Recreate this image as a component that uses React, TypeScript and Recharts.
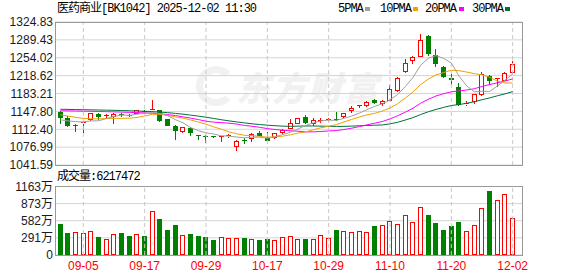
import React from "react";
import {
  ComposedChart,
  Bar,
  Line,
  XAxis,
  YAxis,
  CartesianGrid,
  ReferenceLine,
} from "recharts";

const dates = [
  "09-02", "09-03", "09-04", "09-05", "09-08", "09-09", "09-10", "09-11", "09-12", "09-15",
  "09-16", "09-17", "09-18", "09-19", "09-22", "09-23", "09-24", "09-25", "09-26", "09-29",
  "09-30", "10-09", "10-10", "10-13", "10-14", "10-15", "10-16", "10-17", "10-20", "10-21",
  "10-22", "10-23", "10-24", "10-27", "10-28", "10-29", "10-30", "10-31", "11-03", "11-04",
  "11-05", "11-06", "11-07", "11-10", "11-11", "11-12", "11-13", "11-14", "11-17", "11-18",
  "11-19", "11-20", "11-21", "11-24", "11-25", "11-26", "11-27", "11-28", "12-01", "12-02",
];

const opens = [
  1146, 1134, 1119, 1122, 1130, 1143, 1138, 1137, 1143, 1141,
  1143.4, 1149, 1148.7, 1150, 1132, 1119.3, 1106.3, 1114, 1101, 1099.8,
  1098.4, 1096.5, 1097, 1077, 1091, 1093.4, 1104.5, 1094.7, 1094.7, 1104.5,
  1113, 1122.9, 1137.3, 1122.9, 1128.8, 1130.8, 1132.8, 1136, 1147.8, 1157.6,
  1158, 1170.1, 1162.8, 1169.3, 1188.2, 1225.1, 1248.5, 1255.7, 1297.9, 1258.9,
  1236.2, 1214.7, 1195.3, 1160.2, 1167.3, 1179.6, 1218.6, 1211.4, 1208.2, 1223.1,
];
const highs = [
  1149, 1138, 1123, 1127, 1145, 1145, 1142, 1144, 1145, 1143,
  1151, 1151, 1169.5, 1151, 1133, 1120, 1117, 1116, 1102, 1101,
  1099, 1100, 1103, 1091, 1095, 1104, 1108, 1106.5, 1105, 1113,
  1132.7, 1135, 1140.6, 1134, 1134.7, 1135.3, 1147, 1145, 1159, 1161,
  1168, 1172, 1170, 1200.5, 1216, 1252.4, 1257, 1301.8, 1299, 1271.9,
  1238, 1221.2, 1203.7, 1169.3, 1183, 1225.1, 1219, 1214.7, 1226.4, 1247.2,
];
const lows = [
  1122, 1116, 1107, 1104, 1128, 1131, 1132, 1123, 1137, 1137,
  1142, 1145, 1147.5, 1126, 1118, 1092, 1105, 1100, 1092, 1084.8,
  1096, 1087, 1095, 1068.5, 1083, 1088, 1099, 1089, 1094, 1103,
  1112, 1122, 1123, 1119.6, 1124.9, 1127.5, 1129, 1135, 1144.5, 1154,
  1157, 1163, 1158, 1168, 1187, 1224, 1240.7, 1255, 1257.6, 1234.9,
  1213.4, 1199.2, 1159, 1159, 1163.4, 1178, 1200.4, 1195.3, 1207, 1222,
];
const closes = [
  1135.5, 1118, 1121, 1126, 1144, 1137, 1140, 1142, 1140, 1139.5,
  1150, 1147, 1153.2, 1128, 1119.5, 1109.5, 1116, 1105, 1098.4, 1097.8,
  1097.1, 1099, 1101.5, 1090, 1089.5, 1103.2, 1100, 1090.1, 1104.5, 1111.7,
  1124.9, 1134, 1124.2, 1130.8, 1130.8, 1132.7, 1131.5, 1143.9, 1153.7, 1160,
  1166.8, 1164.2, 1169.3, 1192, 1214.7, 1244.6, 1255, 1290.1, 1260.8, 1241.4,
  1216, 1209.5, 1160.2, 1164.7, 1182.2, 1221.2, 1208.2, 1213.4, 1223.1, 1242.6,
];

// volume in 万
const volumes = [
  530, 382, 388, 376, 405, 308, 268, 359, 376, 325,
  359, 325, 747, 616, 428, 513, 336, 359, 325, 308,
  257, 302, 285, 291, 285, 274, 257, 274, 257, 302,
  319, 268, 274, 274, 336, 285, 428, 405, 388, 405,
  388, 496, 507, 581, 524, 678, 559, 815, 684, 542,
  428, 496, 564, 405, 507, 798, 1094, 935, 1037, 621.7,
];

const ma5 = [
  1131, 1129, 1127.5, 1127, 1128.9, 1129.2, 1133.6, 1137.8, 1140.6, 1139.7,
  1142.3, 1143.7, 1145.9, 1143.5, 1139.5, 1131.4, 1125.2, 1115.6, 1109.7, 1105.3,
  1102.9, 1099.5, 1098.8, 1097.1, 1095.4, 1096.6, 1096.8, 1094.6, 1097.5, 1101.9,
  1106.2, 1113, 1119.9, 1125.1, 1128.9, 1130.5, 1130, 1133.9, 1138.5, 1144.4,
  1151.2, 1157.7, 1162.8, 1170.5, 1181.4, 1197, 1215.1, 1239.3, 1253, 1258.4,
  1252.7, 1243.6, 1217.6, 1198.4, 1186.5, 1187.6, 1187.3, 1197.9, 1209.6, 1221.7,
];
const ma10 = [
  1141, 1138.5, 1136, 1134, 1133, 1133, 1133.5, 1134, 1134, 1134.3,
  1135.8, 1138.7, 1141.9, 1142.1, 1139.6, 1136.9, 1134.5, 1130.8, 1126.6, 1122.4,
  1117.2, 1112.4, 1107.2, 1103.4, 1100.4, 1099.8, 1098.2, 1096.7, 1097.3, 1098.7,
  1101.4, 1104.9, 1107.2, 1111.3, 1115.4, 1118.4, 1121.5, 1126.9, 1131.8, 1136.7,
  1140.8, 1143.9, 1148.4, 1154.5, 1162.9, 1174.1, 1186.4, 1201, 1211.8, 1219.9,
  1224.8, 1229.3, 1228.4, 1225.7, 1222.5, 1220.1, 1215.4, 1207.8, 1204, 1204.1,
];
const ma20 = [
  1149, 1148.8, 1148.5, 1148.2, 1148, 1147.6, 1147.2, 1146.8, 1146.3, 1145.8,
  1145.3, 1144.8, 1144.2, 1143, 1141.5, 1139.5, 1137, 1134.5, 1131.5, 1128.4,
  1126.5, 1125.5, 1124.5, 1122.7, 1120, 1118.3, 1116.3, 1113.7, 1111.9, 1110.6,
  1109.3, 1108.6, 1107.2, 1107.3, 1107.9, 1109.1, 1109.8, 1111.8, 1114.5, 1117.7,
  1121.1, 1124.4, 1127.8, 1132.9, 1139.2, 1146.2, 1154, 1164, 1171.8, 1178.3,
  1182.8, 1186.6, 1188.4, 1190.1, 1192.7, 1197.1, 1200.9, 1204.4, 1207.9, 1212,
];
const ma30 = [
  1152, 1151.7, 1151.4, 1151.1, 1150.8, 1150.5, 1150.2, 1149.9, 1149.5, 1149,
  1148.5, 1148, 1147.3, 1146.4, 1145.3, 1143.8, 1142.2, 1140.4, 1138.4, 1136.2,
  1133.8, 1131.3, 1129, 1127, 1125, 1123.2, 1121.7, 1120.5, 1119.4, 1118.5,
  1118.1, 1118.6, 1118.8, 1118.9, 1118.5, 1118.3, 1118, 1118.1, 1118.6, 1119.3,
  1119.8, 1120.4, 1120.9, 1123.1, 1126.2, 1130.7, 1135.4, 1141.5, 1147, 1151.7,
  1155.7, 1159.4, 1161.3, 1163.8, 1166.9, 1170.9, 1174.5, 1178.6, 1182.5, 1186.9,
];

const priceTicks = [1041.59, 1076.99, 1112.4, 1147.8, 1183.21, 1218.62, 1254.02, 1289.43, 1324.83];
const volTicks = [0, 291, 582, 873, 1163];
const labelDates = ["09-05", "09-17", "09-29", "10-17", "10-29", "11-10", "11-20", "12-02"];

const RED = "#ff0000";
const GREEN = "#008000";
const GRID = "#d4d4d4";
const AXIS_FONT = '"Liberation Sans", "Noto Sans CJK SC", sans-serif';
const MONO_FONT = '"Liberation Mono", "Noto Sans CJK SC", monospace';

const data = dates.map((date, i) => ({
  date,
  open: opens[i],
  high: highs[i],
  low: lows[i],
  close: closes[i],
  range: [lows[i], highs[i]],
  vol: volumes[i],
  ma5: ma5[i],
  ma10: ma10[i],
  ma20: ma20[i],
  ma30: ma30[i],
}));

function Candle(props: any) {
  const { x, y, width, height, payload } = props;
  if (x == null || !payload) return null;
  const { open, close, high, low } = payload;
  const up = close >= open;
  const color = up ? RED : GREEN;
  const top = Math.min(y, y + height);
  const h = Math.abs(height);
  const span = high - low || 1;
  const toY = (v: number) => top + ((high - v) / span) * h;
  const left = Math.round(x + width / 2 - 2.5);
  const mid = left + 2.5;
  const yHigh = Math.round(toY(high));
  const yLow = Math.round(toY(low));
  const bTop = Math.round(toY(Math.max(open, close)));
  let bBot = Math.round(toY(Math.min(open, close)));
  if (bBot - bTop < 1) bBot = bTop + 1;
  if (up) {
    return (
      <g>
        <line x1={mid} x2={mid} y1={yHigh} y2={bTop} stroke={color} />
        <line x1={mid} x2={mid} y1={bBot} y2={yLow} stroke={color} />
        {bBot - bTop <= 2 ? (
          <line x1={left} x2={left + 5} y1={bTop + 0.5} y2={bTop + 0.5} stroke={color} />
        ) : (
          <rect x={left + 0.5} y={bTop + 0.5} width={4} height={bBot - bTop - 1} fill="#fff" stroke={color} />
        )}
      </g>
    );
  }
  return (
    <g>
      <line x1={mid} x2={mid} y1={yHigh} y2={yLow} stroke={color} />
      <rect x={left} y={bTop} width={5} height={bBot - bTop} fill={color} />
    </g>
  );
}

function VolBar(props: any) {
  const { x, y, width, height, payload } = props;
  if (x == null || !payload) return null;
  const up = payload.close >= payload.open;
  const left = Math.round(x + width / 2 - 2.5);
  const top = Math.round(y);
  const bot = Math.round(y + height);
  if (up) {
    return <rect x={left + 0.5} y={top + 0.5} width={4} height={Math.max(bot - top - 1, 0)} fill="#fff" stroke={RED} />;
  }
  return <rect x={left} y={top} width={5} height={bot - top} fill={GREEN} />;
}

const legend = [
  { name: "5PMA", color: "#a0a0a0", x: 338, sx: 365 },
  { name: "10PMA", color: "#f0a000", x: 380, sx: 413 },
  { name: "20PMA", color: "#ff00ff", x: 425, sx: 459 },
  { name: "30PMA", color: "#00703a", x: 472, sx: 505 },
];

const textStyle: React.CSSProperties = {
  position: "absolute",
  fontFamily: MONO_FONT,
  fontSize: 12,
  letterSpacing: -1,
  lineHeight: "14px",
  color: "#000",
  whiteSpace: "nowrap",
};

export default function App() {
  return (
    <div
      style={{
        position: "absolute",
        left: 0,
        top: 0,
        width: 578,
        height: 276,
        background: "#fff",
        overflow: "hidden",
      }}
    >
      {/* watermark */}
      <div
        style={{
          position: "absolute",
          left: 196,
          top: 66,
          width: 26,
          height: 26,
          borderRadius: "50%",
          border: "7px solid #f1f1f1",
          borderRightColor: "transparent",
        }}
      />
      <div
        style={{
          position: "absolute",
          left: 236,
          top: 62,
          fontFamily: '"Noto Sans CJK SC", sans-serif',
          fontSize: 34,
          fontWeight: 900,
          fontStyle: "italic",
          letterSpacing: 2,
          color: "#f1f1f1",
          whiteSpace: "nowrap",
        }}
      >
        东方财富
      </div>

      <div style={{ ...textStyle, left: 57, top: 2 }}>医药商业[BK1042] 2025-12-02 11:30</div>
      {legend.map((l) => (
        <React.Fragment key={l.name}>
          <div style={{ ...textStyle, left: l.x, top: 2 }}>{l.name}</div>
          <div style={{ position: "absolute", left: l.sx, top: 7, width: 5, height: 4, background: l.color }} />
        </React.Fragment>
      ))}

      <div style={{ position: "absolute", left: 0, top: 0 }}>
        <ComposedChart width={578} height={176} data={data} margin={{ top: 22, right: 56, bottom: 11, left: 0 }}>
          <CartesianGrid horizontal vertical={false} stroke={GRID} />
          <XAxis dataKey="date" hide padding={{ left: 1.5, right: 5.5 }} />
          <YAxis
            type="number"
            domain={[1041.59, 1324.83]}
            ticks={priceTicks}
            allowDataOverflow
            width={55}
            axisLine={false}
            tickLine={false}
            tickSize={0}
            tickMargin={2}
            interval={0}
            tickFormatter={(v: number) => v.toFixed(2)}
            tick={{ fill: "#1a1a1a", fontSize: 12, fontFamily: AXIS_FONT }}
          />
          {labelDates.map((d) => (
            <ReferenceLine key={d} x={d} stroke="#c8c8c8" strokeDasharray="4 3" />
          ))}
          <Bar dataKey="range" barSize={5} shape={(p: any) => <Candle {...p} />} isAnimationActive={false} />
          <Line type="linear" dataKey="ma30" stroke="#00703a" strokeWidth={1} dot={false} activeDot={false} isAnimationActive={false} />
          <Line type="linear" dataKey="ma20" stroke="#ff00ff" strokeWidth={1} dot={false} activeDot={false} isAnimationActive={false} />
          <Line type="linear" dataKey="ma10" stroke="#f0a000" strokeWidth={1} dot={false} activeDot={false} isAnimationActive={false} />
          <Line type="linear" dataKey="ma5" stroke="#a0a0a0" strokeWidth={1} dot={false} activeDot={false} isAnimationActive={false} />
        </ComposedChart>
      </div>
      <div
        style={{
          position: "absolute",
          left: 55,
          top: 22,
          width: 468,
          height: 144,
          border: "1px solid #999",
          boxSizing: "border-box",
          pointerEvents: "none",
        }}
      />

      <div style={{ ...textStyle, left: 57, top: 170 }}>成交量:6217472</div>

      <div style={{ position: "absolute", left: 0, top: 170 }}>
        <ComposedChart width={578} height={106} data={data} margin={{ top: 16.5, right: 56, bottom: 0, left: 0 }}>
          <CartesianGrid horizontal vertical={false} stroke={GRID} />
          <XAxis
            dataKey="date"
            ticks={labelDates}
            interval={0}
            height={21}
            axisLine={false}
            tickLine={false}
            tickSize={0}
            tickMargin={6}
            padding={{ left: 1.5, right: 5.5 }}
            tick={{ fill: RED, fontSize: 12, fontFamily: AXIS_FONT }}
          />
          <YAxis
            type="number"
            domain={[0, 1163]}
            ticks={volTicks}
            allowDataOverflow
            width={55}
            axisLine={false}
            tickLine={false}
            tickSize={0}
            tickMargin={2}
            interval={0}
            tickFormatter={(v: number) => (v === 0 ? "0" : `${v}万`)}
            tick={{ fill: "#1a1a1a", fontSize: 12, fontFamily: AXIS_FONT }}
          />
          {labelDates.map((d) => (
            <ReferenceLine key={d} x={d} stroke="#c8c8c8" strokeDasharray="4 3" />
          ))}
          <Bar dataKey="vol" barSize={5} shape={(p: any) => <VolBar {...p} />} isAnimationActive={false} />
        </ComposedChart>
      </div>
      <div
        style={{
          position: "absolute",
          left: 55,
          top: 186,
          width: 468,
          height: 70,
          border: "1px solid #999",
          boxSizing: "border-box",
          pointerEvents: "none",
        }}
      />
    </div>
  );
}
